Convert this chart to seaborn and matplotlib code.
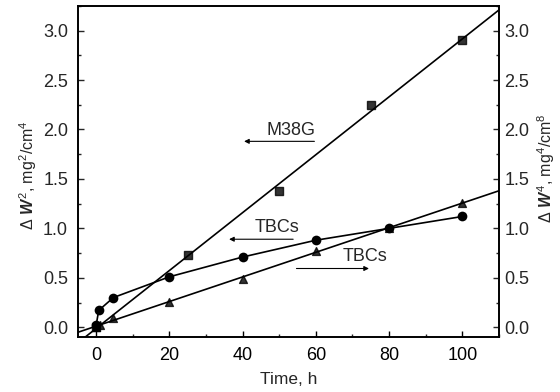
import seaborn as sns
import matplotlib.pyplot as plt
from matplotlib.ticker import MultipleLocator

# M38G (left axis, dW^2) - squares with linear fit
m38g_t = [0, 25, 50, 75, 100]
m38g_w2 = [0.0, 0.73, 1.38, 2.25, 2.90]

# TBCs (left axis, dW^2) - circles joined by segments
tbc_t = [0, 0.7, 4.7, 20, 40, 60, 80, 100]
tbc_w2 = [0.02, 0.17, 0.30, 0.51, 0.71, 0.88, 1.00, 1.12]

# TBCs (right axis, dW^4) - triangles with linear fit
tbc4_t = [0, 1, 4.5, 20, 40, 60, 80, 100]
tbc4_w4 = [0.0, 0.02, 0.09, 0.26, 0.49, 0.77, 1.00, 1.26]

x_ticks = [0, 20, 40, 60, 80, 100]
y_ticks = [0.0, 0.5, 1.0, 1.5, 2.0, 2.5, 3.0]

sns.set_theme(style="ticks")
plt.rcParams['font.family'] = ['Liberation Sans', 'DejaVu Sans']
plt.rcParams['mathtext.fontset'] = 'custom'
plt.rcParams['mathtext.rm'] = 'Liberation Sans'
plt.rcParams['mathtext.it'] = 'Liberation Sans:bold:italic'

fig = plt.figure(figsize=(5.6, 3.92), dpi=100)
ax = fig.add_axes([0.139, 0.140, 0.752, 0.845])
ax.set_xlim(-5, 110)
ax.set_ylim(-0.1, 3.25)

# M38G
sns.regplot(x=m38g_t, y=m38g_w2, ax=ax, ci=None, truncate=False,
            marker='s', color='black',
            scatter_kws={'s': 28, 'zorder': 3},
            line_kws={'lw': 1.2})

# TBCs dW^2
sns.lineplot(x=tbc_t, y=tbc_w2, ax=ax, sort=False, color='black',
             marker='o', markersize=7, lw=1.2, markeredgewidth=0)

ax2 = ax.twinx()
ax2.set_ylim(-0.1, 3.25)
sns.regplot(x=tbc4_t, y=tbc4_w4, ax=ax2, ci=None, truncate=False,
            marker='^', color='black',
            scatter_kws={'s': 32, 'zorder': 3},
            line_kws={'lw': 1.2})
ax2.set_xlim(-5, 110)

# text labels and arrows
ax.text(53.3, 1.99, 'M38G', ha='center', va='center', fontsize=13)
ax.annotate('', xy=(40.4, 1.88), xytext=(59.6, 1.88),
            arrowprops=dict(arrowstyle='-|>', color='black', lw=0.8,
                            mutation_scale=7, shrinkA=0, shrinkB=0))
ax.text(49.5, 1.01, 'TBCs', ha='center', va='center', fontsize=13)
ax.annotate('', xy=(36.3, 0.89), xytext=(53.8, 0.89),
            arrowprops=dict(arrowstyle='-|>', color='black', lw=0.8,
                            mutation_scale=7, shrinkA=0, shrinkB=0))
ax.text(73.4, 0.715, 'TBCs', ha='center', va='center', fontsize=13)
ax.annotate('', xy=(74.5, 0.594), xytext=(54.7, 0.594),
            arrowprops=dict(arrowstyle='-|>', color='black', lw=0.8,
                            mutation_scale=7, shrinkA=0, shrinkB=0))

# axes styling
ax.set_xticks(x_ticks)
ax.set_yticks(y_ticks)
ax2.set_yticks(y_ticks)
ax.xaxis.set_minor_locator(MultipleLocator(10))
ax.yaxis.set_minor_locator(MultipleLocator(0.25))
ax2.yaxis.set_minor_locator(MultipleLocator(0.25))
ax.tick_params(axis='x', which='major', direction='in', length=4,
               width=1, labelsize=13, pad=7, colors='black')
ax.tick_params(axis='x', which='minor', direction='in', length=2.5)
ax.tick_params(axis='y', which='major', direction='in', length=4,
               width=1, labelsize=13, pad=7)
ax.tick_params(axis='y', which='minor', direction='in', length=2.5)
ax2.tick_params(axis='y', which='major', direction='in', length=4,
                width=1, labelsize=13, pad=4)
ax2.tick_params(axis='y', which='minor', direction='in', length=2.5)
ax.yaxis.set_major_formatter('{x:.1f}')
ax2.yaxis.set_major_formatter('{x:.1f}')
for a in (ax, ax2):
    for s in a.spines.values():
        s.set_linewidth(1.2)
        s.set_color('black')
        s.set_visible(True)

ax.set_xlabel('Time, h', fontsize=12.5, labelpad=6)
ax.set_ylabel(r'$\Delta$ $W^2$, mg$^2$/cm$^4$', fontsize=11.5, va='center')
ax.yaxis.set_label_coords(-0.117, 0.49)
ax2.set_ylabel(r'$\Delta$ $W^4$, mg$^4$/cm$^8$', fontsize=11.5,
               rotation=90, va='center')
ax2.yaxis.set_label_coords(1.112, 0.51)

fig.savefig('out.png', dpi=100)
